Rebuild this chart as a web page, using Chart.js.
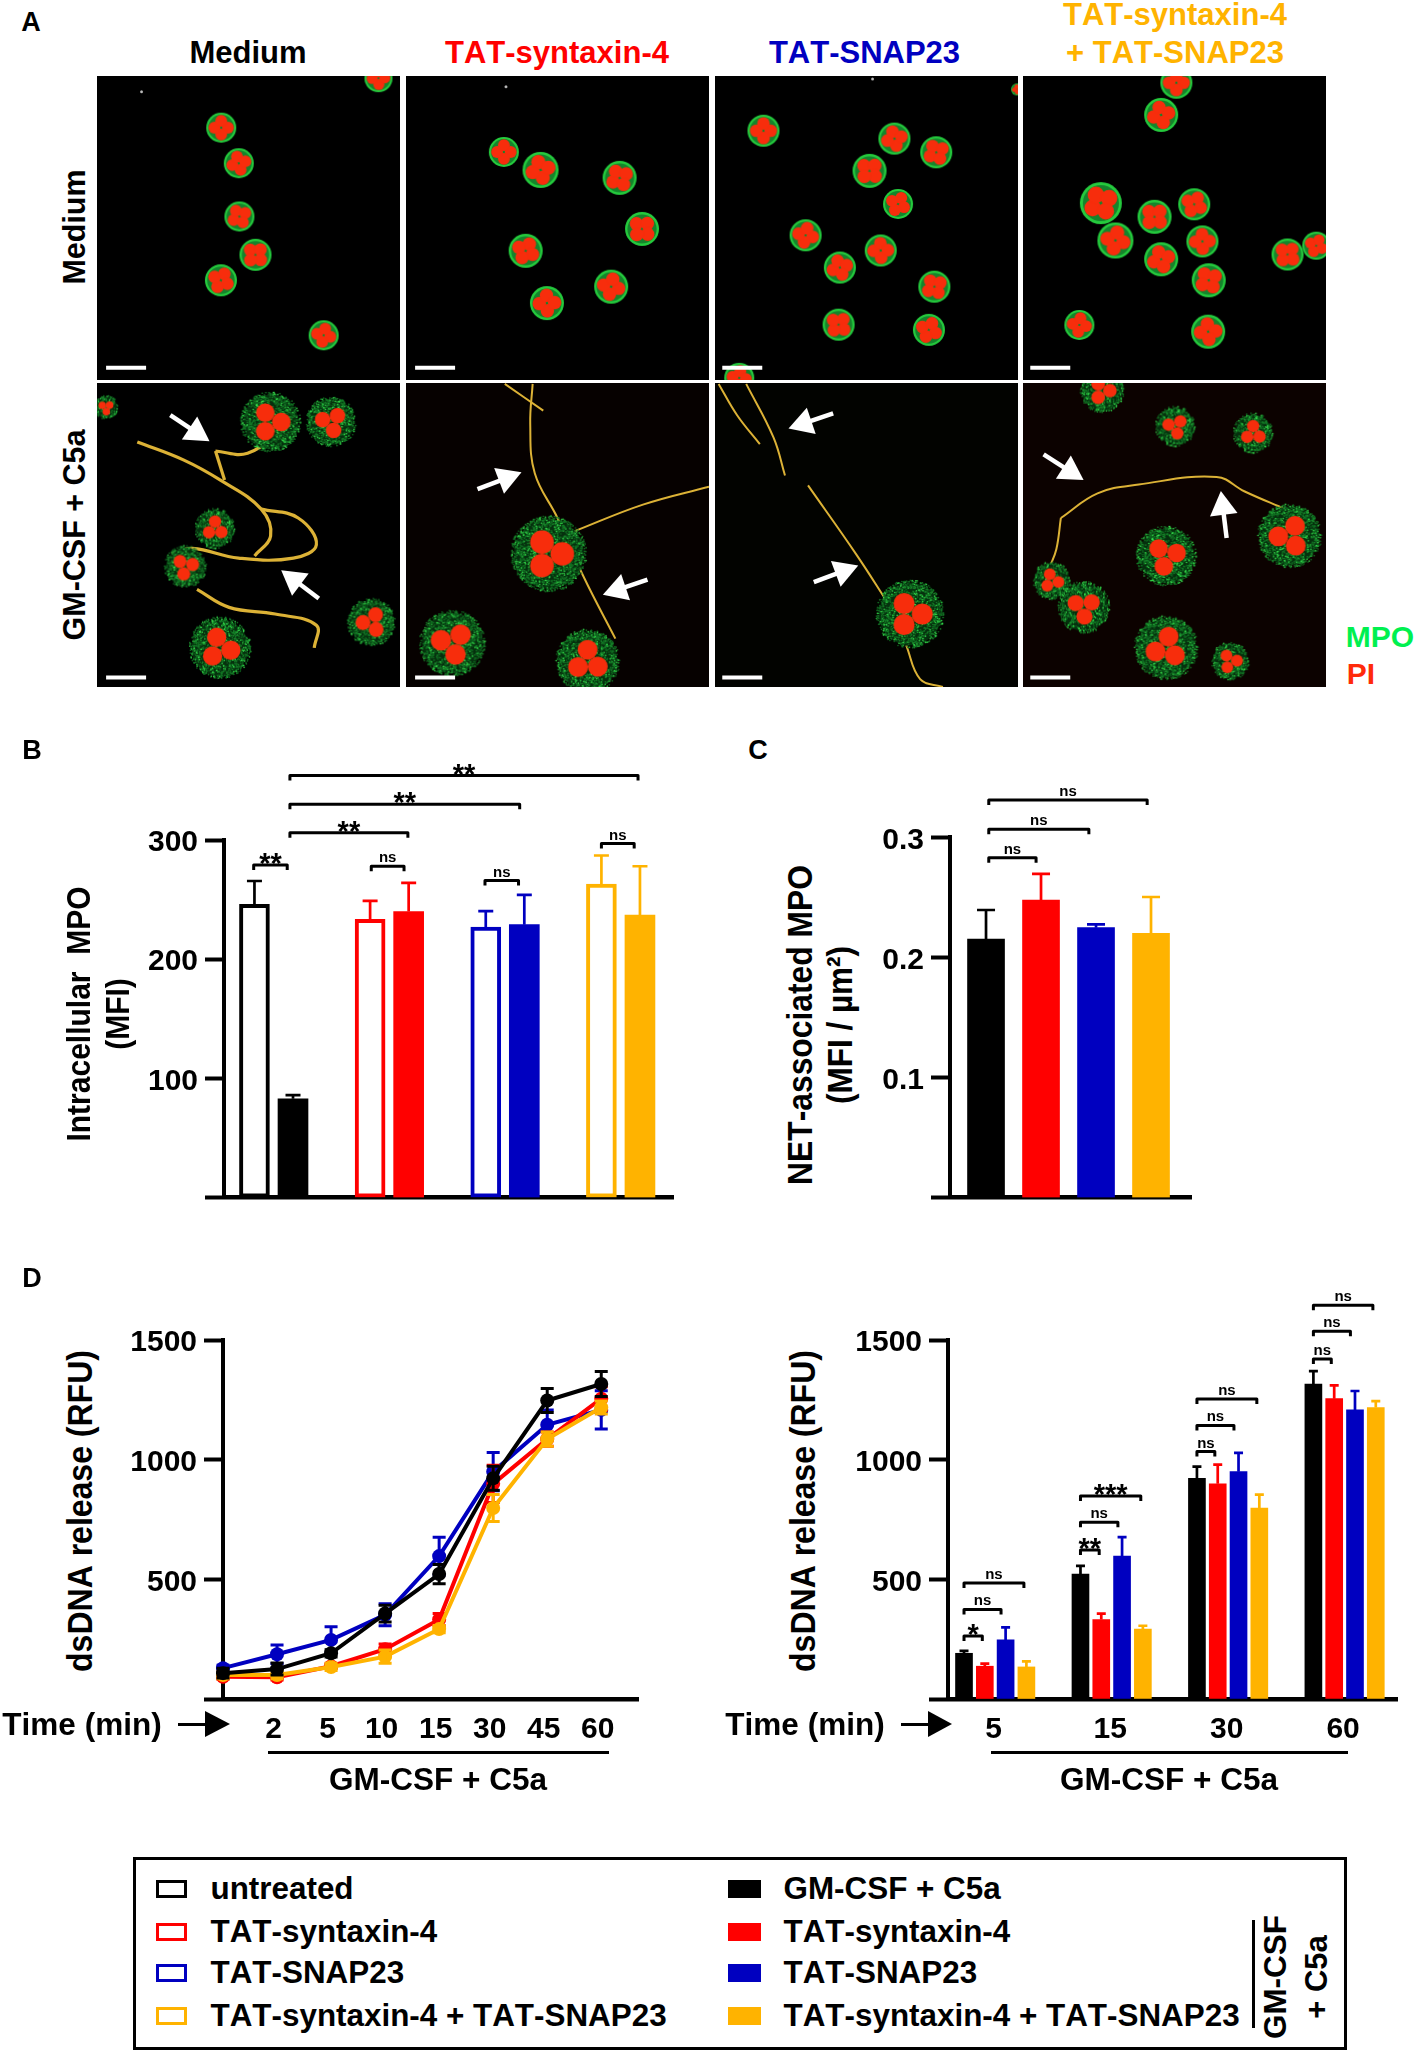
<!DOCTYPE html>
<html>
<head>
<meta charset="utf-8">
<title>Figure</title>
<script src="https://cdn.jsdelivr.net/npm/chart.js@4"></script>
<style>
    html, body { margin: 0; padding: 0; background: #fff; }
    #page { position: relative; width: 1417px; height: 2054px; overflow: hidden; font-family: "Liberation Sans", Arial, sans-serif; }
    #page canvas { position: absolute; display: block; }
    .txt { position: absolute; font-weight: bold; line-height: 1; white-space: pre; color: #000; font-kerning: none; }
    .box { position: absolute; box-sizing: border-box; }
</style>
</head>
<body>
<div id="page"></div>
<script>
// Colours
const BLACK = '#000000', RED = '#ff0000', BLUE = '#0000c0', AMBER = '#ffb300';

// Panel B - intracellular MPO
const barsBLabels = ['untreated', 'GM-CSF + C5a', 'TAT-syntaxin-4', 'TAT-syntaxin-4 GM', 'TAT-SNAP23', 'TAT-SNAP23 GM', 'both', 'both GM'];
const barsBValues = [246, 83, 233.5, 240, 227, 229, 263, 237];
const barsBErrTop = [265.6, 86, 249, 264, 240.4, 254, 287, 278];

// Panel C - NET-associated MPO
const barsCLabels = ['GM-CSF + C5a', 'TAT-syntaxin-4', 'TAT-SNAP23', 'TAT-syntaxin-4 + TAT-SNAP23'];
const barsCValues = [0.2153, 0.2478, 0.2248, 0.2201];
const barsCErrTop = [0.2395, 0.2695, 0.2276, 0.2503];

// Panel D - time course
const timeLabels = ['', '2', '5', '10', '15', '30', '45', '60'];
const lineBlack = [108, 125, 191, 357, 522, 922, 1247, 1316];
const lineBlackErr = [20, 25, 15, 35, 40, 50, 50, 52];
const lineBlue = [129, 187, 247, 352, 597, 950, 1146, 1208];
const lineBlueErr = [12, 39, 55, 46, 79, 80, 62, 80];
const lineRed = [93, 91, 137, 208, 332, 899, 1086, 1255];
const lineRedErr = [10, 12, 10, 22, 25, 78, 30, 50];
const lineAmber = [100, 100, 134, 177, 292, 798, 1086, 1218];
const lineAmberErr = [15, 15, 15, 28, 15, 56, 30, 27];

// Panel D - bars at selected times
const barTimes = ['5', '15', '30', '60'];
const barsDBlack = [191, 522, 922, 1316];
const barsDBlackTop = [201, 556, 971, 1370];
const barsDRed = [137, 332, 899, 1255];
const barsDRedTop = [148, 357, 979, 1310];
const barsDBlue = [247, 597, 950, 1208];
const barsDBlueTop = [299, 676, 1028, 1287];
const barsDAmber = [134, 292, 798, 1218];
const barsDAmberTop = [157, 306, 854, 1245];

// Significance brackets: [from, to, value, label]
const bracketsB = [
    [-0.02, 0.85, 279, '**'], [3.03, 3.88, 278, 'ns'], [5.98, 6.85, 266, 'ns'], [9.0, 9.85, 297, 'ns'],
    [0.92, 3.98, 306, '**'], [0.92, 6.88, 330, '**'], [0.92, 9.95, 354, '**']
];
const bracketsC = [
    [0.05, 0.91, 0.283, 'ns'], [0.05, 1.87, 0.3067, 'ns'], [0.05, 2.93, 0.331, 'ns']
];
const bracketsD = [
    [0, 0.88, 263, '*'], [0, 1.78, 374, 'ns'], [0, 2.88, 485, 'ns'],
    [5.6, 6.5, 623, '**'], [5.6, 7.4, 738, 'ns'], [5.6, 8.5, 848, '***'],
    [11.2, 12.06, 1034, 'ns'], [11.2, 12.98, 1143, 'ns'], [11.2, 14.08, 1254, 'ns'],
    [16.8, 17.66, 1421, 'ns'], [16.8, 18.58, 1537, 'ns'], [16.8, 19.66, 1645, 'ns']
];

// Panel A - cells as [x, y, radius] in percent of the frame
const cellsA1 = [[41, 17, 15], [46.8, 28.7, 15], [47, 46.2, 15], [52.3, 58.8, 16], [40.9, 67.2, 16], [74.8, 85.3, 15], [92.9, 0.7, 14]];
const cellsA2 = [[32.3, 25, 15], [44.4, 30.9, 18], [70.5, 33.5, 17], [77.9, 50.3, 17], [39.5, 57.5, 17], [67.7, 69.3, 17], [46.5, 74.7, 17]];
const cellsA3 = [[16, 18, 16], [59.2, 20.6, 16], [73, 25.1, 16], [51, 31.2, 17], [60.4, 42.1, 15], [29.9, 52.4, 16], [54.7, 57.4, 16], [41.2, 63, 16], [72.4, 69.3, 16], [40.8, 81.8, 16], [70.6, 83.5, 16], [8, 99.3, 15], [99.7, 4.4, 6]];
const cellsA4 = [[50.6, 2.2, 16], [45.6, 12.8, 17], [25.7, 41.8, 21], [43.4, 46.3, 17], [56.5, 42.2, 16], [30.5, 54.1, 18], [59.2, 54.4, 16], [45.6, 60.3, 17], [61.3, 67.2, 17], [87.3, 58.7, 16], [96.8, 55.8, 14], [18.6, 81.9, 15], [61.1, 84.1, 17]];
const cellsA5 = [[57.3, 12.8, 30], [77.3, 12.8, 25], [39, 47.9, 20], [29.2, 60.4, 21], [90.6, 78.7, 24], [40.6, 87.1, 31], [3, 8, 12]];
const cellsA6 = [[47.1, 56.2, 38], [15.3, 85.6, 33], [60, 91.5, 32]];
const cellsA7 = [[64.4, 76, 34]];
const cellsA8 = [[26.1, 2.5, 22], [50.3, 14.3, 20], [76, 16.5, 20], [47.3, 56.9, 30], [88, 50.3, 32], [9.5, 65, 19], [20.1, 73.8, 26], [47.3, 87.1, 32], [68.4, 91.5, 19]];

// Panel A - NET fibres
const fibresA5 = [
    [[13.3, 19.4], [28.5, 25.3], [40.6, 31.9], [54.2, 41.5], [57.3, 50.3], [52, 56.9]],
    [[39.1, 22.4], [42.1, 31.9]],
    [[39.1, 22.4], [49.7, 23.1], [61.8, 15]],
    [[54.2, 41.5], [66.4, 44.4], [72.4, 53.2], [64.8, 57.6], [46.7, 57.6], [31.5, 54.4], [24.7, 56.2]],
    [[33, 67.9], [43.6, 73.8], [58.8, 76], [72.4, 79.7], [71.7, 87.1]]
];
const fibresA6 = [
    [[41.8, 0.3], [41, 13.5], [42.5, 29.7], [50, 44.4], [58.5, 63.5], [69.1, 84.1]],
    [[32.6, 0.3], [45.3, 9.1]],
    [[55.5, 48.8], [78.2, 40], [100, 34.1]]
];
const fibresA7 = [
    [[1.2, 0.3], [7.3, 10.6], [14.8, 20.1]],
    [[10.3, 0.3], [19.3, 17.9], [23.1, 30.4]],
    [[30.7, 33.7], [46.5, 56.2], [57.1, 72.4]],
    [[63.1, 86.3], [67.7, 97.4], [75.2, 100]]
];
const fibresA8 = [
    [[12.5, 44.4], [24.6, 36.3], [38.2, 33.4], [63.9, 30.9], [73, 35.6], [86.6, 41.5]],
    [[12.5, 44.4], [11, 54.7], [8.8, 60.6]]
];

// Panel A - arrows as [tailX, tailY, tipX, tipY]
const arrowsA5 = [[24.2, 10.6, 36.4, 18.7], [73.2, 70.9, 61.5, 62.1]];
const arrowsA6 = [[23.6, 34.9, 37.3, 29.7], [79.7, 64.7, 65.8, 69.4]];
const arrowsA7 = [[39, 10, 25.1, 14.7], [32.6, 65.5, 46.5, 60.3]];
const arrowsA8 = [[6.8, 23.5, 19.3, 31.5], [67.2, 51, 65.4, 36.3]];

const page = document.getElementById('page');

function addText(text, x, y, size, color, rotate, stretch) {
    const el = document.createElement('div');
    el.className = 'txt';
    el.textContent = text;
    el.style.left = x + 'px';
    el.style.top = y + 'px';
    el.style.fontSize = size + 'px';
    if (color) el.style.color = color;
    el.style.transform = 'translate(-50%,-50%)' + (rotate ? ' rotate(-90deg)' : '') + (stretch ? ' scaleY(' + stretch + ')' : '');
    page.appendChild(el);
}

function addBox(left, top, width, height, fill, border) {
    const el = document.createElement('div');
    el.className = 'box';
    el.style.cssText = `left:${left}px;top:${top}px;width:${width}px;height:${height}px;background:${fill || 'transparent'};` +
        (border ? `border:${border};` : '');
    page.appendChild(el);
}

function addArrow(x1, x2, x3, y) {
    addBox(x1, y - 1.5, x2 - x1, 3, '#000');
    const head = document.createElement('div');
    head.className = 'box';
    head.style.cssText = `left:${x2}px;top:${y - 13}px;width:0;height:0;border-top:13px solid transparent;border-bottom:13px solid transparent;border-left:${x3 - x2}px solid #000;`;
    page.appendChild(head);
}

function addCanvas(left, top, width, height, background) {
    const c = document.createElement('canvas');
    c.width = width;
    c.height = height;
    c.style.left = left + 'px';
    c.style.top = top + 'px';
    c.style.width = width + 'px';
    c.style.height = height + 'px';
    if (background) c.style.background = background;
    page.appendChild(c);
    return c;
}

// Error bars drawn after each dataset so the stacking order follows the datasets
const errorBarsPlugin = {
    id: 'errorBars',
    afterDatasetDraw(chart, args) {
        const ds = chart.data.datasets[args.index];
        if (!ds.errHigh) return;
        const meta = chart.getDatasetMeta(args.index);
        const yScale = chart.scales.y;
        const ctx = chart.ctx;
        ctx.save();
        ctx.lineWidth = ds.errWidth || 2.7;
        meta.data.forEach((el, i) => {
            const half = (ds.errCap || 15) / 2;
            const color = Array.isArray(ds.errColor) ? ds.errColor[i] : ds.errColor;
            const top = yScale.getPixelForValue(ds.errHigh[i]);
            const bottom = yScale.getPixelForValue(ds.errLow ? ds.errLow[i] : ds.data[i].y);
            ctx.strokeStyle = color;
            ctx.beginPath();
            ctx.moveTo(el.x, bottom);
            ctx.lineTo(el.x, top);
            ctx.moveTo(el.x - half, top);
            ctx.lineTo(el.x + half, top);
            if (ds.errLow) {
                ctx.moveTo(el.x - half, bottom);
                ctx.lineTo(el.x + half, bottom);
            }
            ctx.stroke();
        });
        ctx.restore();
    }
};

const bracketsPlugin = {
    id: 'brackets',
    afterDraw(chart, args, opts) {
        if (!opts.list) return;
        const ctx = chart.ctx;
        const { x, y } = chart.scales;
        ctx.save();
        ctx.strokeStyle = '#000';
        ctx.fillStyle = '#000';
        ctx.lineWidth = 3;
        ctx.lineJoin = 'round';
        ctx.textAlign = 'center';
        ctx.textBaseline = 'alphabetic';
        opts.list.forEach(([from, to, value, label]) => {
            const x1 = x.getPixelForValue(from);
            const x2 = x.getPixelForValue(to);
            const py = y.getPixelForValue(value);
            ctx.beginPath();
            ctx.moveTo(x1, py + 5);
            ctx.lineTo(x1, py);
            ctx.lineTo(x2, py);
            ctx.lineTo(x2, py + 5);
            ctx.stroke();
            const xm = (x1 + x2) / 2;
            if (label === 'ns') {
                ctx.font = 'bold 15px "Liberation Sans"';
                ctx.fillText(label, xm, py - 4);
            } else {
                ctx.font = 'bold 29px "Liberation Sans"';
                ctx.fillText(label, xm, py + 8);
            }
        });
        ctx.restore();
    }
};

function yAxis(max, step, width) {
    return {
        min: 0,
        max: max,
        afterFit(s) { s.width = width; },
        ticks: {
            stepSize: step,
            color: '#000',
            padding: 7,
            labelOffset: 3,
            font: { family: '"Liberation Sans"', weight: 'bold', size: 30 },
            callback: v => (v === 0 ? '' : step < 1 ? v.toFixed(1) : String(v))
        },
        grid: { drawOnChartArea: false, tickLength: 19, tickWidth: 4, color: '#000' },
        border: { display: true, width: 4, color: '#000' }
    };
}

function xAxisPlain(min, max, height) {
    return {
        type: 'linear',
        offset: false,
        min: min,
        max: max,
        afterFit(s) { s.height = height; },
        ticks: { display: false },
        grid: { display: false },
        border: { display: true, width: 4.5, color: '#000' }
    };
}

function xAxisTimes(min, max, height, positions, labels, offset) {
    return {
        type: 'linear',
        offset: false,
        min: min,
        max: max,
        afterFit(s) { s.height = height; },
        afterBuildTicks(s) { s.ticks = positions.map(v => ({ value: v })); },
        ticks: {
            autoSkip: false,
            maxRotation: 0,
            minRotation: 0,
            padding: 13,
            labelOffset: offset,
            color: '#000',
            font: { family: '"Liberation Sans"', weight: 'bold', size: 30 },
            callback: (v, i) => labels[i]
        },
        grid: { display: false, drawTicks: false },
        border: { display: true, width: 4.5, color: '#000' }
    };
}

function barOptions(padding, xScale, yScale, brackets) {
    return {
        responsive: false,
        animation: false,
        layout: { padding: padding, autoPadding: false },
        scales: { x: xScale, y: yScale },
        plugins: { legend: { display: false }, tooltip: { enabled: false }, brackets: { list: brackets } }
    };
}

// ---- Panel B ----
const slotsB = [0, 1, 3, 4, 6, 7, 9, 10];
const colorsB = [BLACK, BLACK, RED, RED, BLUE, BLUE, AMBER, AMBER];
new Chart(addCanvas(0, 740, 700, 500), {
    type: 'bar',
    data: {
        labels: barsBLabels,
        datasets: [{
            data: barsBValues.map((v, i) => ({ x: slotsB[i], y: v })),
            backgroundColor: colorsB.map((c, i) => (i % 2 ? c : '#ffffff')),
            borderColor: colorsB,
            borderWidth: colorsB.map((c, i) => (i % 2 ? 0 : 4)),
            borderSkipped: false,
            barThickness: 30,
            errHigh: barsBErrTop,
            errColor: colorsB
        }]
    },
    options: barOptions({ top: 100, right: 26.5 }, xAxisPlain(-0.79, 10.87, 42.3), yAxis(300, 100, 224), bracketsB),
    plugins: [errorBarsPlugin, bracketsPlugin]
});

// ---- Panel C ----
const colorsC = [BLACK, RED, BLUE, AMBER];
new Chart(addCanvas(870, 740, 340, 500), {
    type: 'bar',
    data: {
        labels: barsCLabels,
        datasets: [{
            data: barsCValues.map((v, i) => ({ x: i, y: v })),
            backgroundColor: colorsC,
            barThickness: 37,
            errHigh: barsCErrTop,
            errColor: colorsC,
            errCap: 18
        }]
    },
    options: barOptions({ top: 97.3, right: 19 }, xAxisPlain(-0.655, 3.727, 42.3), yAxis(0.3, 0.1, 80), bracketsC),
    plugins: [errorBarsPlugin, bracketsPlugin]
});

// ---- Panel D, time course ----
function lineSet(values, errs, color) {
    return {
        data: values.map((v, i) => ({ x: i, y: v })),
        borderColor: color,
        backgroundColor: color,
        borderWidth: 4,
        pointRadius: 7,
        pointBorderWidth: 0,
        clip: false,
        errHigh: values.map((v, i) => v + errs[i]),
        errLow: values.map((v, i) => v - errs[i]),
        errColor: color,
        errWidth: 3,
        errCap: 13
    };
}
new Chart(addCanvas(120, 1300, 540, 460), {
    type: 'line',
    data: {
        datasets: [
            lineSet(lineBlack, lineBlackErr, BLACK),
            lineSet(lineAmber, lineAmberErr, AMBER),
            lineSet(lineRed, lineRedErr, RED),
            lineSet(lineBlue, lineBlueErr, BLUE)
        ]
    },
    options: barOptions({ top: 40, right: 22 },
        xAxisTimes(0, 7.68, 61, [1, 2, 3, 4, 5, 6, 7], timeLabels.slice(1), -3.5),
        yAxis(1500, 500, 103)),
    plugins: [errorBarsPlugin, bracketsPlugin]
});

// ---- Panel D, bars ----
const groupStarts = [0, 5.6, 11.2, 16.8];
function timeBars(values, tops, color, offset) {
    return {
        data: values.map((v, i) => ({ x: groupStarts[i] + offset, y: v })),
        backgroundColor: color,
        barThickness: 17,
        grouped: false,
        errHigh: tops,
        errColor: color,
        errCap: 9
    };
}
new Chart(addCanvas(830, 1280, 587, 480), {
    type: 'bar',
    data: {
        datasets: [
            timeBars(barsDBlack, barsDBlackTop, BLACK, 0),
            timeBars(barsDRed, barsDRedTop, RED, 1),
            timeBars(barsDBlue, barsDBlueTop, BLUE, 2),
            timeBars(barsDAmber, barsDAmberTop, AMBER, 3)
        ]
    },
    options: barOptions({ top: 60, right: 20 },
        xAxisTimes(-0.77, 20.82, 61, groupStarts.map(v => v + 1.5), barTimes, -1.5),
        yAxis(1500, 500, 118), bracketsD),
    plugins: [errorBarsPlugin, bracketsPlugin]
});

// ---- Panel A ----
// fixed hash so the grain texture is the same on every load
function grain(k) {
    const s = Math.sin(k) * 43758.5453;
    return s - Math.floor(s);
}

function cellSprite(r, lateStage, turn) {
    const size = Math.ceil(r * 2 + 4);
    const c = document.createElement('canvas');
    c.width = size;
    c.height = size;
    const g = c.getContext('2d');
    const mid = size / 2;
    const dot = (x, y, rad, color) => {
        g.fillStyle = color;
        g.beginPath();
        g.arc(x, y, rad, 0, Math.PI * 2);
        g.fill();
    };
    if (lateStage) {
        dot(mid, mid, r * 0.92, '#06300e');
        const grains = Math.round(r * r * 1.2);
        for (let i = 1; i < grains; i++) {
            const a = grain(i * 1.7 + r) * Math.PI * 2;
            const d = r * Math.sqrt(grain(i * 3.1 + r + 0.5));
            const tone = i % 5 === 0 ? '#35e04c' : i % 2 ? '#17822a' : '#0f6a20';
            dot(mid + d * Math.cos(a), mid + d * Math.sin(a), 0.8, tone);
        }
    } else {
        dot(mid, mid, r, '#25cc3e');
        dot(mid, mid, r * 0.86, '#15842c');
    }
    const nuc = lateStage ? r * 0.66 : r * 0.84;
    const lobes = lateStage ? 3 : 4;
    for (let i = 0; i < lobes; i++) {
        const a = turn + i * Math.PI * 2 / lobes;
        dot(mid + nuc * 0.54 * Math.cos(a), mid + nuc * 0.54 * Math.sin(a), nuc * 0.47, '#f72d0c');
    }
    return c;
}

function framePanel(left, top, cells, lateStage, fibres, fibreWidth, arrows, scaleBar, dust, background) {
    const datasets = [];
    (arrows || []).forEach(a => {
        const angle = Math.atan2(a[2] - a[0], a[1] - a[3]) * 180 / Math.PI;
        datasets.push({
            type: 'line',
            data: [{ x: a[0], y: a[1] }, { x: a[2] - (a[2] - a[0]) * 0.3, y: a[3] - (a[3] - a[1]) * 0.3 }],
            borderColor: '#fff',
            backgroundColor: '#fff',
            borderWidth: 4.5,
            pointStyle: 'triangle',
            pointRadius: [0, 16],
            pointBorderWidth: 0,
            pointRotation: [0, angle]
        });
    });
    datasets.push({
        type: 'line',
        data: [{ x: scaleBar[0], y: scaleBar[2] }, { x: scaleBar[1], y: scaleBar[2] }],
        borderColor: '#fff',
        borderWidth: 4,
        pointRadius: 0
    });
    if (dust) {
        datasets.push({ type: 'scatter', data: [{ x: dust[0], y: dust[1] }], backgroundColor: '#bbb', pointRadius: 1.5 });
    }
    datasets.push({
        type: 'scatter',
        data: cells.map(p => ({ x: p[0], y: p[1] })),
        pointStyle: cells.map((p, i) => cellSprite(p[2], lateStage, i * 1.3)),
        pointRadius: cells.map(p => p[2])
    });
    (fibres || []).forEach(f => {
        datasets.push({
            type: 'line',
            data: f.map(p => ({ x: p[0], y: p[1] })),
            borderColor: '#dcb236',
            borderWidth: fibreWidth,
            tension: 0.4,
            pointRadius: 0
        });
    });
    new Chart(addCanvas(left, top, 303, 304, background || '#000'), {
        data: { datasets: datasets },
        options: {
            responsive: false,
            animation: false,
            layout: { autoPadding: false },
            scales: {
                x: { type: 'linear', display: false, min: 0, max: 100 },
                y: { type: 'linear', display: false, min: 0, max: 100, reverse: true }
            },
            plugins: { legend: { display: false }, tooltip: { enabled: false } }
        }
    });
}

const colLeft = [97, 406, 715, 1023];
const rowTop = [76, 383];
framePanel(colLeft[0], rowTop[0], cellsA1, false, null, 0, null, [3, 16.2, 96], [14.7, 5.2]);
framePanel(colLeft[1], rowTop[0], cellsA2, false, null, 0, null, [3, 16.2, 96], [33, 3.5]);
framePanel(colLeft[2], rowTop[0], cellsA3, false, null, 0, null, [2.4, 15.6, 96], [52, 1]);
framePanel(colLeft[3], rowTop[0], cellsA4, false, null, 0, null, [2.4, 15.6, 96]);
framePanel(colLeft[0], rowTop[1], cellsA5, true, fibresA5, 3.2, arrowsA5, [3, 16.2, 96.9]);
framePanel(colLeft[1], rowTop[1], cellsA6, true, fibresA6, 2, arrowsA6, [3, 16.2, 96.9], null, '#060100');
framePanel(colLeft[2], rowTop[1], cellsA7, true, fibresA7, 2, arrowsA7, [2.4, 15.6, 96.9], null, '#020300');
framePanel(colLeft[3], rowTop[1], cellsA8, true, fibresA8, 2, arrowsA8, [2.4, 15.6, 96.9], null, '#0c0200');

// ---- Text and furniture ----
addText('A', 31, 22, 27);
addText('B', 32, 750, 27);
addText('C', 758, 750, 27);
addText('D', 32, 1278, 27);

addText('Medium', 248, 52, 31);
addText('TAT-syntaxin-4', 557, 52, 31, RED);
addText('TAT-SNAP23', 864.5, 52, 31, BLUE);
addText('TAT-syntaxin-4', 1175, 14, 31, AMBER);
addText('+ TAT-SNAP23', 1175, 52, 31, AMBER);
addText('Medium', 74, 227, 30.5, null, true);
addText('GM-CSF + C5a', 74, 535, 30.5, null, true);
addText('MPO', 1380, 637, 30, '#00f050');
addText('PI', 1361, 674, 30, '#ff2a0a');

addText('Intracellular  MPO', 78.5, 1014, 30, null, true, 1.12);
addText('(MFI)', 118, 1014, 30, null, true, 1.12);
addText('NET-associated MPO', 801, 1025, 31.8, null, true, 1.12);
addText('(MFI / µm²)', 841, 1025, 31.5, null, true, 1.12);
addText('dsDNA release (RFU)', 80, 1511, 32, null, true, 1.12);
addText('dsDNA release (RFU)', 803, 1511, 32, null, true, 1.12);

addText('Time (min)', 82, 1725, 31.5);
addArrow(178, 205, 230, 1724);
addBox(268, 1750.5, 341, 3, '#000');
addText('GM-CSF + C5a', 438, 1780, 31.5);
addText('Time (min)', 805, 1725, 31.5);
addArrow(901, 928, 952, 1724);
addBox(991, 1750.5, 357, 3, '#000');
addText('GM-CSF + C5a', 1169, 1780, 31.5);

// ---- Legend ----
addBox(132.5, 1857, 1214, 193, '#fff', '3.5px solid #000');
const legendRows = [1889, 1932, 1973, 2016];
const legendColors = [BLACK, RED, BLUE, AMBER];
const legendLeft = ['untreated', 'TAT-syntaxin-4', 'TAT-SNAP23', 'TAT-syntaxin-4 + TAT-SNAP23'];
const legendRight = ['GM-CSF + C5a', 'TAT-syntaxin-4', 'TAT-SNAP23', 'TAT-syntaxin-4 + TAT-SNAP23'];
legendRows.forEach((y, i) => {
    addBox(156, y - 9, 31, 18, '#fff', '3.5px solid ' + legendColors[i]);
    addBox(728, y - 9, 33, 18, legendColors[i]);
    [[210.5, legendLeft[i]], [783.5, legendRight[i]]].forEach(([x, text]) => {
        const el = document.createElement('div');
        el.className = 'txt';
        el.textContent = text;
        el.style.cssText = `left:${x}px;top:${y}px;font-size:31.4px;transform:translateY(-50%);`;
        page.appendChild(el);
    });
});
addBox(1252, 1920, 2.5, 108, '#000');
addText('GM-CSF', 1276, 1977, 31.5, null, true);
addText('+ C5a', 1316, 1977, 31, null, true);
</script>
</body>
</html>
